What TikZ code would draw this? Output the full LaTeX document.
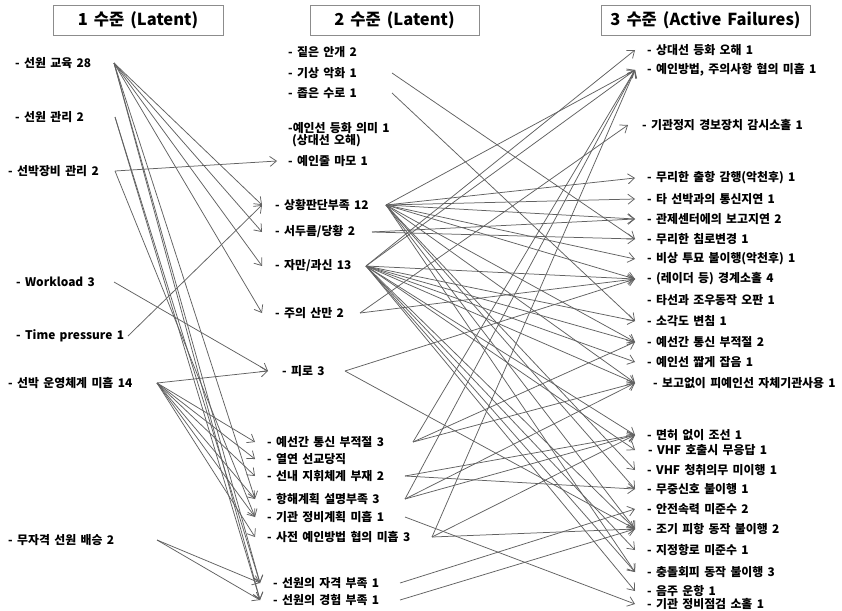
\documentclass[tikz,border=0pt]{standalone}
\usepackage{fontspec}
\setmainfont{Noto Sans CJK KR}[WordSpace=1.6]
\usetikzlibrary{arrows.meta}
\begin{document}
\begin{tikzpicture}[x=1pt,y=-1pt,
  item/.style={anchor=west,inner sep=0pt,font=\fontsize{11.9}{14}\selectfont\bfseries},
  head/.style={draw=black!45,line width=0.8pt,minimum height=30pt,inner sep=0pt,font=\fontsize{16.5}{18}\selectfont\bfseries},
  link/.style={draw=black!62,line width=0.75pt,-{Straight Barb[length=6.5pt,width=10pt]}}]
\useasboundingbox (0,0) rectangle (842,610);
\fill[white] (0,0) rectangle (842,610);
% headers
\node[head,minimum width=170pt] (h1) at (138,20) {1 수준 (Latent)};
\node[head,minimum width=169pt] (h2) at (394.5,20) {2 수준 (Latent)};
\node[head,minimum width=209pt] (h3) at (705.5,20) {3 수준 (Active Failures)};
% level 1
\node[item] (a1) at (15,63) {- 선원 교육 28};
\node[item] (a2) at (15,117) {- 선원 관리 2};
\node[item] (a3) at (8,171) {- 선박장비 관리 2};
\node[item] (a4) at (16,282) {- Workload 3};
\node[item] (a5) at (16,336) {- Time pressure 1};
\node[item] (a6) at (8,383) {- 선박 운영체계 미흡 14};
\node[item] (a7) at (8,540) {- 무자격 선원 배승 2};
% level 2
\node[item] (b1) at (288,52) {- 짙은 안개 2};
\node[item] (b2) at (288,73) {- 기상 악화 1};
\node[item] (b3) at (288,93) {- 좁은 수로 1};
\node[item,align=left] (b4) at (288,134.5) {-예인선 등화 의미 1\\[-1.5pt]\hspace*{4pt}(상대선 오해)};
\node[item] (b5) at (288,161) {- 예인줄 마모 1};
\node[item] (b6) at (275,205) {- 상황판단부족 12};
\node[item] (b7) at (275,232) {- 서두름/당황 2};
\node[item] (b8) at (275,266) {- 자만/과신 13};
\node[item] (b9) at (275,313) {- 주의 산만 2};
\node[item] (b10) at (282,371) {- 피로 3};
\node[item] (b11) at (267,442) {- 예선간 통신 부적절 3};
\node[item] (b12) at (267,459) {- 열연 선교당직};
\node[item] (b13) at (267,476) {- 선내 지휘체계 부재 2};
\node[item] (b14) at (267,499) {- 항해계획 설명부족 3};
\node[item] (b15) at (267,517) {- 기관 정비계획 미흡 1};
\node[item] (b16) at (267,537) {- 사전 예인방법 협의 미흡 3};
\node[item] (b17) at (273,583) {- 선원의 자격 부족 1};
\node[item] (b18) at (273,600) {- 선원의 경험 부족 1};
% level 3
\node[item] (c1) at (647,50) {- 상대선 등화 오해 1};
\node[item] (c2) at (647,70) {- 예인방법, 주의사항 협의 미흡 1};
\node[item] (c3) at (642,125) {- 기관정지 경보장치 감시소홀 1};
\node[item] (c4) at (647,178) {- 무리한 출항 감행(악천후) 1};
\node[item] (c5) at (647,199) {- 타 선박과의 통신지연 1};
\node[item] (c6) at (647,219) {- 관제센터에의 보고지연 2};
\node[item] (c7) at (647,239) {- 무리한 침로변경 1};
\node[item] (c8) at (647,259) {- 비상 투묘 불이행(악천후) 1};
\node[item] (c9) at (647,279) {- (레이더 등) 경계소홀 4};
\node[item] (c10) at (647,300) {- 타선과 조우동작 오판 1};
\node[item] (c11) at (647,321) {- 소각도 변침 1};
\node[item] (c12) at (647,342) {- 예선간 통신 부적절 2};
\node[item] (c13) at (647,362) {- 예인선 짧게 잡음 1};
\node[item] (c14) at (653,383) {- 보고없이 피예인선 자체기관사용 1};
\node[item] (c15) at (647,435) {- 면허 없이 조선 1};
\node[item] (c16) at (648,450) {- VHF 호출시 무응답 1};
\node[item] (c17) at (647,470) {- VHF 청취의무 미이행 1};
\node[item] (c18) at (647,489) {- 무중신호 불이행 1};
\node[item] (c19) at (647,509) {- 안전속력 미준수 2};
\node[item] (c20) at (647,529) {- 조기 피항 동작 불이행 2};
\node[item] (c21) at (647,550) {- 지정항로 미준수 1};
\node[item] (c22) at (647,572) {- 충돌회피 동작 불이행 3};
\node[item] (c23) at (647,591) {- 음주 운항 1};
\node[item] (c24) at (647,604) {- 기관 정비점검 소홀 1};
% connector end points
\foreach \n/\x in {a1/114,a2/115,a3/115,a4/114,a5/128,a6/157,a7/157,
  b2/392,b3/392,b6/386,b7/372,b8/366,b9/360,b10/345,b11/413,b13/405,b14/405,b15/405,b16/432,b17/400,b18/400}
  \coordinate (\n o) at (\n.west -| \x,0);
\foreach \n/\x in {b5/277,b6/262,b7/262,b8/262,b9/262,b10/268,b11/255,b12/255,b13/255,b14/255,b15/255,b16/255,b17/260,b18/260}
  \coordinate (\n i) at (\n.west -| \x,0);
\foreach \n in {c1,c2,c4,c5,c6,c7,c8,c9,c10,c11,c12,c13,c14,c15,c16,c17,c18,c19,c20,c21,c22,c23,c24}
  \coordinate (\n i) at (\n.west -| 635,0);
\coordinate (c3i) at (c3.west -| 628,0);
% level 1 -> level 2
\foreach \s/\t in {a1/b6,a1/b7,a1/b8,a1/b9,a1/b14,a1/b17,a1/b18,
  a2/b17,a2/b18,a3/b5,a3/b15,a4/b10,a5/b6,
  a6/b10,a6/b11,a6/b12,a6/b13,a6/b14,a6/b15,a6/b16,a7/b17,a7/b18}
  \draw[link] (\s o) -- (\t i);
% level 2 -> level 3
\foreach \s/\t in {b2/c7,b3/c11,
  b6/c2,b6/c4,b6/c5,b6/c6,b6/c8,b6/c9,b6/c12,b6/c14,b6/c17,b6/c18,b6/c20,b6/c22,
  b7/c6,b7/c7,
  b8/c1,b8/c2,b8/c9,b8/c11,b8/c12,b8/c13,b8/c14,b8/c15,b8/c16,b8/c20,b8/c21,b8/c22,b8/c23,
  b9/c3,b9/c9,b10/c9,b10/c20,
  b11/c2,b11/c12,b11/c14,b13/c15,b13/c18,b14/c2,b14/c14,b14/c15,
  b15/c24,b16/c2,b16/c15,b16/c20,b17/c19,b18/c20}
  \draw[link] (\s o) -- (\t i);
\end{tikzpicture}
\end{document}
